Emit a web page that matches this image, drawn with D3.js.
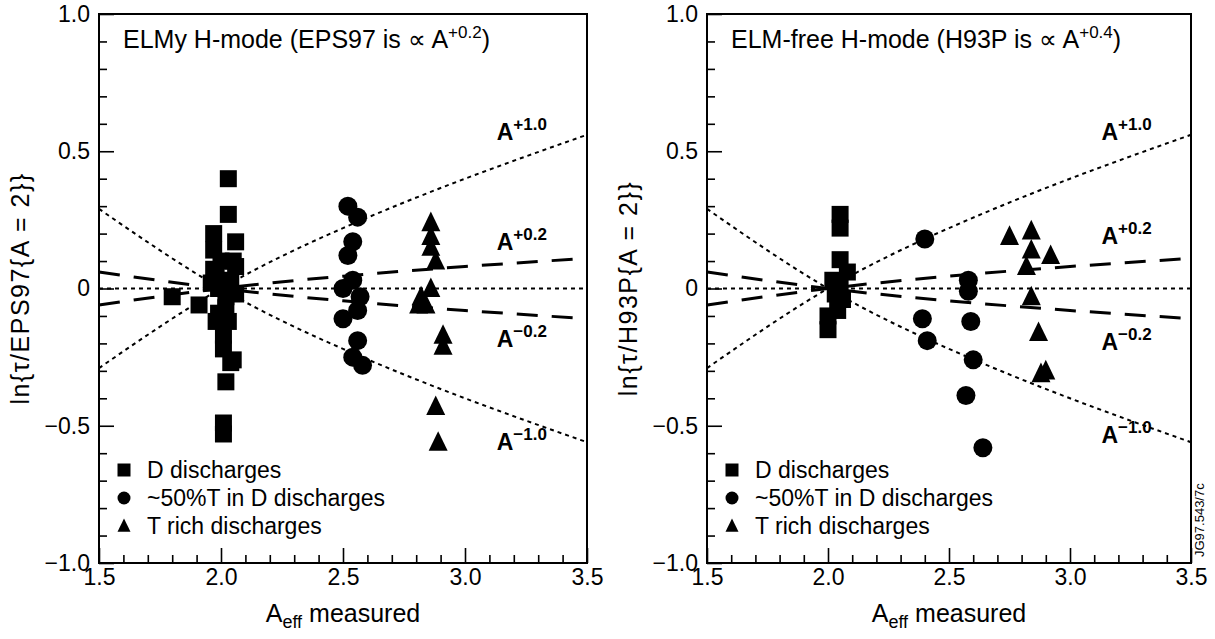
<!DOCTYPE html>
<html>
<head>
<meta charset="utf-8">
<script src="https://cdn.jsdelivr.net/npm/d3@7"></script>
<style>
  body { margin: 0; background: #fff; }
  svg { font-family: "Liberation Sans", Arial, Helvetica, sans-serif; }
</style>
</head>
<body>
<svg id="chart" width="1215" height="639"></svg>
<script>
// sample points of the reference curves
const aSamples = [1.5, 2.0, 2.5, 3.0, 3.5];
const curvePlus10 = [-0.29, 0, 0.22, 0.40, 0.56];
const curvePlus02 = [-0.06, 0, 0.045, 0.08, 0.11];
const curveZero = [0, 0, 0, 0, 0];
const curveMinus02 = [0.06, 0, -0.045, -0.08, -0.11];
const curveMinus10 = [0.29, 0, -0.22, -0.40, -0.56];

// ELMy H-mode panel  [A_eff, ln ratio]
const elmySquares = [
	[1.80, -0.03], [1.91, -0.06], [1.97, 0.20], [1.97, 0.14], [1.97, 0.07],
	[1.96, 0.02], [1.98, -0.12], [1.99, 0.00], [2.01, -0.17], [2.01, -0.22],
	[2.02, -0.03], [2.02, -0.07], [2.03, 0.40], [2.03, 0.27], [2.04, -0.27],
	[2.02, -0.34], [2.01, -0.49], [2.01, -0.53], [2.06, 0.17], [2.06, 0.08],
	[2.05, 0.10], [2.06, -0.02], [2.00, 0.10], [1.98, 0.04], [2.04, 0.03],
	[1.99, -0.09], [2.03, -0.12], [2.05, -0.26]
];
const elmyCircles = [
	[2.52, 0.30], [2.56, 0.26], [2.54, 0.17], [2.52, 0.12], [2.50, 0.00],
	[2.54, 0.03], [2.57, -0.03], [2.50, -0.11], [2.56, -0.08], [2.56, -0.19],
	[2.54, -0.25], [2.58, -0.28]
];
const elmyTriangles = [
	[2.86, 0.24], [2.86, 0.19], [2.86, 0.15], [2.88, 0.10], [2.86, 0.00],
	[2.82, -0.03], [2.81, -0.06], [2.84, -0.06], [2.91, -0.17], [2.91, -0.21],
	[2.88, -0.43], [2.89, -0.56]
];

// ELM-free H-mode panel
const freeSquares = [
	[2.05, 0.27], [2.05, 0.22], [2.05, 0.105], [2.08, 0.06], [2.05, 0.01],
	[2.06, -0.04], [2.04, -0.08], [2.00, -0.10], [2.00, -0.15], [2.02, 0.03],
	[2.03, -0.02]
];
const freeCircles = [
	[2.40, 0.18], [2.58, 0.03], [2.58, -0.01], [2.39, -0.11], [2.41, -0.19],
	[2.59, -0.12], [2.60, -0.26], [2.57, -0.39], [2.64, -0.58]
];
const freeTriangles = [
	[2.75, 0.19], [2.84, 0.21], [2.84, 0.14], [2.82, 0.08], [2.92, 0.12],
	[2.84, -0.03], [2.87, -0.16], [2.88, -0.31], [2.90, -0.30]
];

const legendLabels = ["D discharges", "~50%T in D discharges", "T rich discharges"];
const xMajor = [1.5, 2.0, 2.5, 3.0, 3.5];
const yMajor = [-1.0, -0.5, 0, 0.5, 1.0];

const svg = d3.select("#chart");

// triangle marker, a bit taller than equilateral like the scan
const triPath = (s) => `M0,${-s * 0.58}L${s / 2},${s * 0.45}L${-s / 2},${s * 0.45}Z`;
const squarePath = (s) => d3.symbol(d3.symbolSquare, s * s)();
const circlePath = (s) => d3.symbol(d3.symbolCircle, Math.PI * s * s / 4)();

function drawPanel(p) {
	const x = d3.scaleLinear().domain([1.5, 3.5]).range([p.left, p.right]);
	const y = d3.scaleLinear().domain([-1, 1]).range([563, 14]);
	const g = svg.append("g");

	// minor ticks every 0.1, major every 0.5, all pointing inwards
	const minorX = d3.range(15, 36).map((d) => d / 10).filter((d) => !xMajor.includes(d));
	const minorY = d3.range(-10, 11).map((d) => d / 10).filter((d) => !yMajor.includes(d));

	const xAxis = g.append("g").attr("transform", `translate(0,${y(-1)})`);
	xAxis.call(d3.axisBottom(x).tickValues(xMajor).tickSize(-15).tickPadding(6).tickFormat(d3.format(".1f")));
	xAxis.append("g").call(d3.axisBottom(x).tickValues(minorX).tickSize(-8).tickFormat(""));

	const yAxis = g.append("g").attr("transform", `translate(${p.left},0)`);
	yAxis.call(d3.axisLeft(y).tickValues(yMajor).tickSize(-15).tickPadding(9)
		.tickFormat((d) => (d === 0 ? "0" : d3.format(".1f")(d))));
	yAxis.append("g").call(d3.axisLeft(y).tickValues(minorY).tickSize(-8).tickFormat(""));

	g.selectAll(".domain").remove();
	g.selectAll(".tick line").attr("stroke", "#000").attr("stroke-width", 1.6);
	g.selectAll(".tick text").attr("font-size", 23).attr("font-family", null).attr("fill", "#000");

	g.append("rect")
		.attr("x", p.left).attr("y", y(1))
		.attr("width", p.right - p.left).attr("height", y(-1) - y(1))
		.attr("fill", "none").attr("stroke", "#000").attr("stroke-width", 2);

	// reference curves
	const line = d3.line()
		.x((d, i) => x(aSamples[i]))
		.y((d) => y(d))
		.curve(d3.curveNatural);
	const curves = [
		{ v: curvePlus10, dash: "4,4", w: 2 },
		{ v: curveMinus10, dash: "4,4", w: 2 },
		{ v: curveZero, dash: "4,4", w: 2 },
		{ v: curvePlus02, dash: "21,14", w: 3 },
		{ v: curveMinus02, dash: "21,14", w: 3 },
	];
	g.selectAll(".curve")
		.data(curves)
		.enter()
		.append("path")
		.attr("class", "curve")
		.attr("d", (d) => line(d.v))
		.attr("fill", "none")
		.attr("stroke", "#000")
		.attr("stroke-width", (d) => d.w)
		.attr("stroke-dasharray", (d) => d.dash);

	// data markers
	const sets = [
		{ data: p.squares, shape: squarePath, size: 17 },
		{ data: p.circles, shape: circlePath, size: 19 },
		{ data: p.triangles, shape: triPath, size: 19 },
	];
	sets.forEach((s) => {
		g.append("g")
			.selectAll("path")
			.data(s.data)
			.enter()
			.append("path")
			.attr("d", s.shape(s.size))
			.attr("transform", (d) => `translate(${x(d[0])},${y(d[1])})`)
			.attr("fill", "#000");
	});

	// curve labels
	p.curveLabels.forEach((c) => {
		const t = g.append("text")
			.attr("x", x(3.13))
			.attr("y", c.y)
			.attr("font-size", 23)
			.attr("font-weight", "bold");
		t.append("tspan").text("A");
		t.append("tspan").attr("dy", -10).attr("font-size", 17).text(c.label);
	});

	// panel title
	const title = g.append("text").attr("x", p.left + 24).attr("y", 48).attr("font-size", 25);
	title.append("tspan").text(p.title);
	title.append("tspan").attr("dy", -10).attr("font-size", 17).text(p.titleSup);
	title.append("tspan").attr("dy", 10).text(")");

	// legend
	const shapes = [squarePath, circlePath, triPath];
	const legend = g.selectAll(".legend")
		.data(legendLabels)
		.enter()
		.append("g")
		.attr("class", "legend")
		.attr("transform", (d, i) => `translate(${p.left + 25},${470 + i * 28})`);
	legend.append("path").attr("d", (d, i) => shapes[i](13)).attr("fill", "#000");
	legend.append("text").attr("x", 23).attr("y", 8).attr("font-size", 23).text((d) => d);

	// axis titles
	const xt = g.append("text")
		.attr("x", (p.left + p.right) / 2)
		.attr("y", 622)
		.attr("text-anchor", "middle")
		.attr("font-size", 25);
	xt.append("tspan").text("A");
	xt.append("tspan").attr("dy", 6).attr("font-size", 18).text("eff");
	xt.append("tspan").attr("dy", -6).text(" measured");

	g.append("text")
		.attr("transform", `translate(${p.left - 70},${y(0)}) rotate(-90)`)
		.attr("text-anchor", "middle")
		.attr("font-size", 25)
		.attr("letter-spacing", 1.5)
		.text(p.yLabel);
}

drawPanel({
	left: 99, right: 587,
	squares: elmySquares, circles: elmyCircles, triangles: elmyTriangles,
	title: "ELMy H-mode (EPS97 is \u221d A", titleSup: "+0.2",
	yLabel: "ln{\u03c4/EPS97{A = 2}}",
	curveLabels: [
		{ label: "+1.0", y: 140 }, { label: "+0.2", y: 250 },
		{ label: "\u22120.2", y: 347 }, { label: "\u22121.0", y: 450 },
	],
});

drawPanel({
	left: 707, right: 1191,
	squares: freeSquares, circles: freeCircles, triangles: freeTriangles,
	title: "ELM-free H-mode (H93P is \u221d A", titleSup: "+0.4",
	yLabel: "ln{\u03c4/H93P{A = 2}}",
	curveLabels: [
		{ label: "+1.0", y: 140 }, { label: "+0.2", y: 244 },
		{ label: "\u22120.2", y: 350 }, { label: "\u22121.0", y: 443 },
	],
});

// figure reference printed along the right edge
svg.append("text")
	.attr("transform", "translate(1204,557) rotate(-90)")
	.attr("font-size", 13)
	.text("JG97.543/7c");
</script>
</body>
</html>
